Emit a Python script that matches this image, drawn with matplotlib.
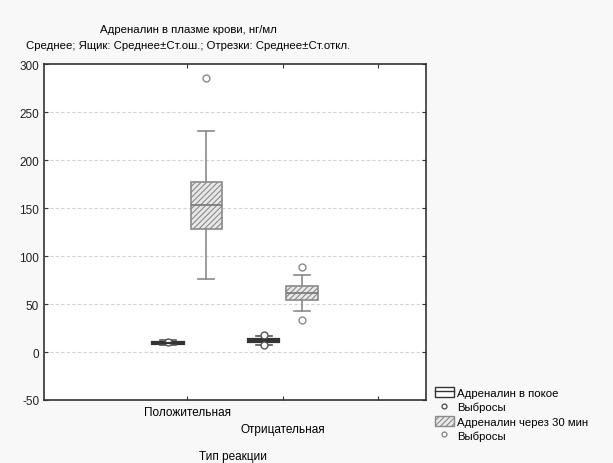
import matplotlib
matplotlib.use("Agg")
import matplotlib.pyplot as plt
from matplotlib.patches import Patch
from matplotlib.lines import Line2D

# donnees
categories = ["Положительная", "Отрицательная"]
rest_mean = [9.5, 12.0]
rest_se = [0.8, 1.5]
rest_sd = [2.5, 4.5]
rest_out = [[10.5], [18.0, 7.0]]
late_mean = [153.0, 61.5]
late_se = [24.5, 7.0]
late_sd = [77.0, 18.5]
late_out = [[285.0], [88.5, 33.0]]

plt.rcParams['font.family'] = ['Liberation Sans', 'DejaVu Sans']
plt.rcParams['axes.unicode_minus'] = False
plt.rcParams['hatch.color'] = '#777777'
plt.rcParams['hatch.linewidth'] = 0.8

fig = plt.figure(figsize=(6.13, 4.64), dpi=100, facecolor='#f8f8f8')
ax = fig.add_axes([44/613, 1-401/464, (426-44)/613, (401-65)/464])

def stats(m, se, sd, out):
    return [dict(med=m[i], q1=m[i]-se[i], q3=m[i]+se[i],
                 whislo=m[i]-sd[i], whishi=m[i]+sd[i], fliers=out[i])
            for i in range(len(m))]

pos = [1, 2]
off = 0.2
w = 0.33
grey = '#8a8a8a'

ax.bxp(stats(rest_mean, rest_se, rest_sd, rest_out), positions=[p-off for p in pos],
       widths=w, patch_artist=True, manage_ticks=False,
       boxprops=dict(facecolor='white', edgecolor='#333333', linewidth=1.6),
       medianprops=dict(color='#333333', linewidth=1.6),
       whiskerprops=dict(color='#555555', linewidth=1.2),
       capprops=dict(color='#555555', linewidth=1.2),
       flierprops=dict(marker='o', markersize=5, markerfacecolor='white',
                       markeredgecolor='#555555', markeredgewidth=1.0))

ax.bxp(stats(late_mean, late_se, late_sd, late_out), positions=[p+off for p in pos],
       widths=w, patch_artist=True, manage_ticks=False,
       boxprops=dict(facecolor='#e8e8e8', edgecolor=grey, linewidth=1.2, hatch='//////'),
       medianprops=dict(color='#777777', linewidth=1.2),
       whiskerprops=dict(color=grey, linewidth=1.2),
       capprops=dict(color=grey, linewidth=1.2),
       flierprops=dict(marker='o', markersize=5, markerfacecolor='white',
                       markeredgecolor=grey, markeredgewidth=1.0))

ax.set_xlim(-0.5, 3.5)
ax.set_ylim(-50, 300)
ax.set_yticks(range(-50, 301, 50))
ax.set_xticks([1, 2, 3])
ax.set_xticklabels(["", "", ""])
for y in range(0, 300, 50):
    ax.axhline(y, color='#d4d4d4', linestyle=(0, (3, 2)), linewidth=0.8, zorder=0)
ax.tick_params(direction='in', length=3, top=True, right=True, labelsize=8.5,
               color='#333333', labelcolor='#222222')
for s in ax.spines.values():
    s.set_linewidth(1.2)
    s.set_color('#333333')

ax.text(1, -56, categories[0], ha='center', va='top', fontsize=8.5, transform=ax.transData)
ax.text(2, -74, categories[1], ha='center', va='top', fontsize=8.5, transform=ax.transData)
fig.text(233/613, 1-457/464, "Тип реакции", ha='center', va='center', fontsize=8.5)

fig.text(188/613, 1-30/464, "Адреналин в плазме крови, нг/мл", ha='center', va='center', fontsize=8.2)
fig.text(188/613, 1-46/464, "Среднее; Ящик: Среднее±Ст.ош.; Отрезки: Среднее±Ст.откл.",
         ha='center', va='center', fontsize=8.2)

h1 = (Patch(facecolor='white', edgecolor='#333333', linewidth=1.0),
      Line2D([], [], color='#333333', linewidth=1.0))
h2 = Line2D([], [], linestyle='none', marker='o', markersize=3.5,
            markerfacecolor='white', markeredgecolor='#555555')
h3 = Patch(facecolor='#e8e8e8', edgecolor=grey, hatch='//////')
h4 = Line2D([], [], linestyle='none', marker='o', markersize=3.5,
            markerfacecolor='white', markeredgecolor=grey)
fig.legend([h1, h2, h3, h4],
           ["Адреналин в покое", "Выбросы", "Адреналин через 30 мин", "Выбросы"],
           loc='upper left', bbox_to_anchor=(429/613, 1-382/464), frameon=False,
           fontsize=8.2, handlelength=1.7, handleheight=1.0, handletextpad=0.3,
           labelspacing=0.3, borderpad=0)

fig.savefig("out.png", dpi=100, facecolor=fig.get_facecolor())
